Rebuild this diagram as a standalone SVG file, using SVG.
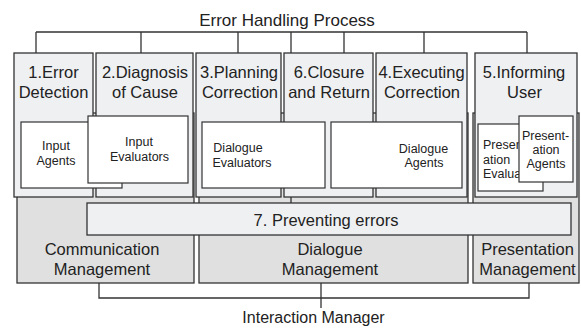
<svg xmlns="http://www.w3.org/2000/svg" width="581" height="329" viewBox="0 0 581 329">
  <style>
    .txt { font-family: "Liberation Sans", Arial, sans-serif; fill: #222; text-anchor: middle; }
    .big { font-size: 16.5px; }
    .small { font-size: 12.5px; }
    .left { text-anchor: start; }
    .mgmt { fill: #e0e0e0; stroke: #333; stroke-width: 1.3; }
    .step { fill: #eef0f2; stroke: #333; stroke-width: 1.3; }
    .inner { fill: #ffffff; stroke: #333; stroke-width: 1.2; }
    .wire { fill: none; stroke: #333; stroke-width: 1.3; }
  </style>
  <defs>
    <!-- the evaluator card sits partly under the agents card -->
    <clipPath id="pres-eval-clip">
      <rect x="478" y="124" width="41" height="67"/>
    </clipPath>
  </defs>
  <rect width="581" height="329" fill="#ffffff"/>

  <text class="txt" x="287" y="26" font-size="17">Error Handling Process</text>

  <!-- management layers (background) -->
  <g id="communication-management">
    <rect class="mgmt" x="17" y="113" width="177" height="170"/>
    <text class="txt big" x="102" y="255">Communication</text>
    <text class="txt big" x="102" y="275">Management</text>
  </g>
  <g id="dialogue-management">
    <rect class="mgmt" x="199" y="113" width="269" height="170"/>
    <text class="txt big" x="330" y="255">Dialogue</text>
    <text class="txt big" x="330" y="275">Management</text>
  </g>
  <g id="presentation-management">
    <rect class="mgmt" x="473" y="113" width="106" height="170"/>
    <text class="txt big" x="527.5" y="255">Presentation</text>
    <text class="txt big" x="527.5" y="275">Management</text>
  </g>

  <!-- connectors -->
  <g id="connectors">
    <path class="wire" d="M36,32 H527 M36,32 V53 M141,32 V53 M238,32 V53 M291,32 V203 M344,32 V53 M424,32 V53 M527,32 V53"/>
    <path class="wire" d="M99,283 V298 H529 V283 M321,283 V308"/>
  </g>

  <!-- error handling steps -->
  <g id="step1">
    <rect class="step" x="14" y="53" width="79" height="144"/>
    <text class="txt big" x="53.5" y="78">1.Error</text>
    <text class="txt big" x="53.5" y="98">Detection</text>
  </g>
  <g id="step2">
    <rect class="step" x="96" y="53" width="97" height="144"/>
    <text class="txt big" x="145" y="78">2.Diagnosis</text>
    <text class="txt big" x="145" y="98">of Cause</text>
  </g>
  <g id="step3">
    <rect class="step" x="196" y="53" width="85" height="144"/>
    <text class="txt big" x="239" y="78">3.Planning</text>
    <text class="txt big" x="240" y="98">Correction</text>
  </g>
  <g id="step6">
    <rect class="step" x="284" y="53" width="89" height="144"/>
    <text class="txt big" x="329" y="78">6.Closure</text>
    <text class="txt big" x="329" y="98">and Return</text>
  </g>
  <g id="step4">
    <rect class="step" x="376" y="53" width="91" height="144"/>
    <text class="txt big" x="421.5" y="78">4.Executing</text>
    <text class="txt big" x="422" y="98">Correction</text>
  </g>
  <g id="step5">
    <rect class="step" x="475" y="53" width="102" height="144"/>
    <text class="txt big" x="524" y="78">5.Informing</text>
    <text class="txt big" x="524.5" y="98">User</text>
  </g>

  <!-- agents and evaluators -->
  <g id="input-agents">
    <rect class="inner" x="21" y="122" width="101" height="66"/>
    <text class="txt small" x="56" y="150">Input</text>
    <text class="txt small" x="56" y="165">Agents</text>
  </g>
  <g id="input-evaluators">
    <rect class="inner" x="88" y="116" width="100" height="67"/>
    <text class="txt small" x="139" y="146">Input</text>
    <text class="txt small" x="139.5" y="161">Evaluators</text>
  </g>
  <g id="dialogue-evaluators">
    <rect class="inner" x="202" y="122" width="123" height="66"/>
    <text class="txt small" x="238" y="152">Dialogue</text>
    <text class="txt small" x="242" y="167">Evaluators</text>
  </g>
  <g id="dialogue-agents">
    <rect class="inner" x="331" y="122" width="131" height="66"/>
    <text class="txt small" x="423.5" y="153">Dialogue</text>
    <text class="txt small" x="424" y="167">Agents</text>
  </g>
  <g id="presentation-evaluators">
    <rect class="inner" x="478" y="124" width="65" height="67"/>
    <g clip-path="url(#pres-eval-clip)">
      <text class="txt small left" x="483" y="149">Presen</text>
      <text class="txt small left" x="483" y="164">ation</text>
      <text class="txt small left" x="483" y="178">Evalua</text>
    </g>
  </g>
  <g id="presentation-agents">
    <rect class="inner" x="519" y="116" width="54" height="66"/>
    <text class="txt small" x="545.5" y="140">Present-</text>
    <text class="txt small" x="546" y="154">ation</text>
    <text class="txt small" x="546" y="168">Agents</text>
  </g>

  <!-- cross-cutting step -->
  <g id="step7">
    <rect class="step" x="87" y="203" width="484" height="32"/>
    <text class="txt big" x="326" y="226">7. Preventing errors</text>
  </g>

  <text class="txt" x="313.5" y="323" font-size="16">Interaction Manager</text>
</svg>
